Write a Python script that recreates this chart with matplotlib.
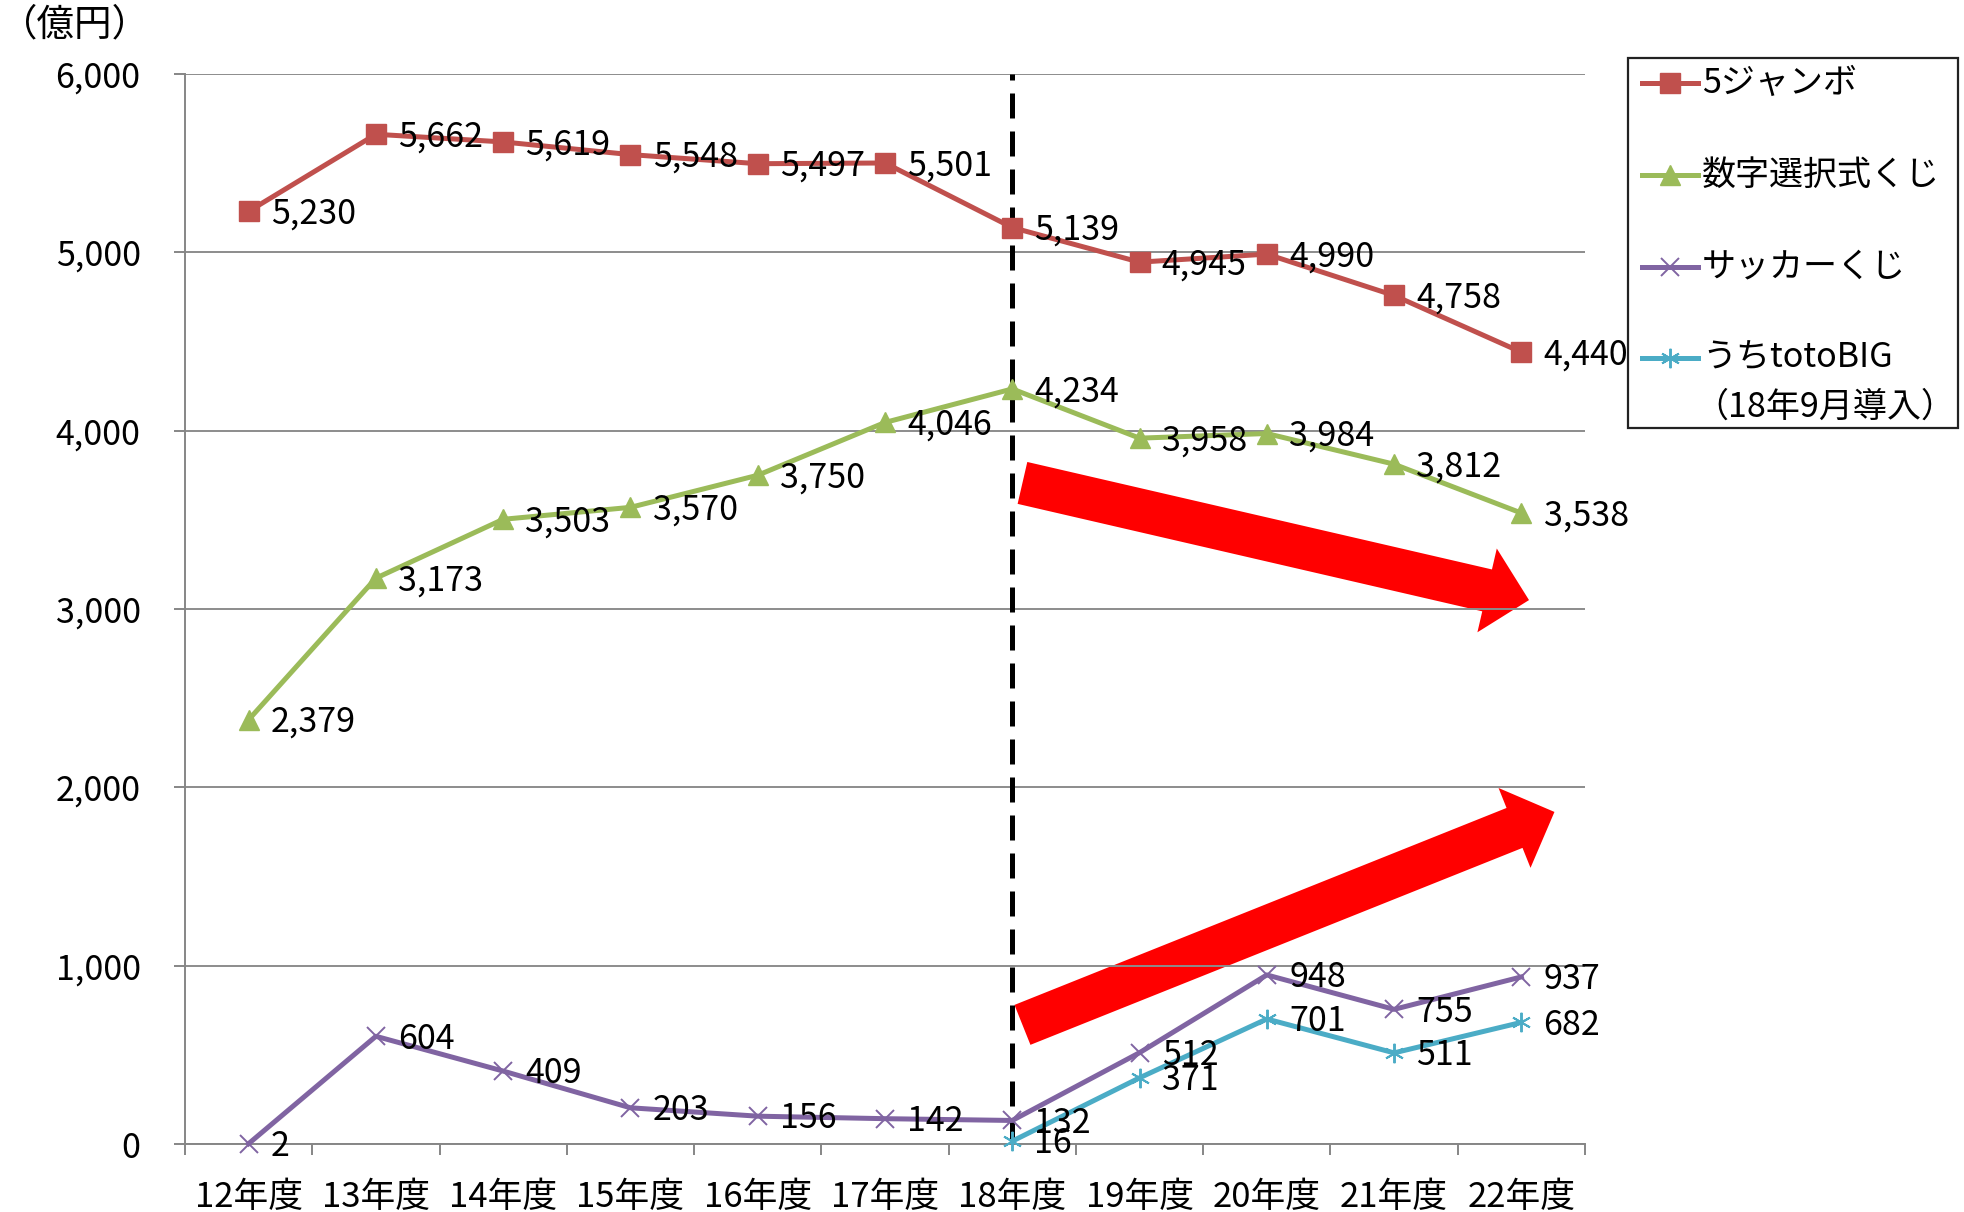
import numpy as np
import matplotlib
matplotlib.use('Agg')
import matplotlib.pyplot as plt
from matplotlib.lines import Line2D
from matplotlib.patches import FancyArrow, Rectangle
from matplotlib.ticker import FuncFormatter, FixedLocator
from matplotlib.transforms import IdentityTransform

plt.rcParams['font.family'] = ['Noto Sans CJK JP', 'DejaVu Sans']

# data (億円)
years = ['12年度', '13年度', '14年度', '15年度', '16年度', '17年度',
         '18年度', '19年度', '20年度', '21年度', '22年度']
jumbo = [5230, 5662, 5619, 5548, 5497, 5501, 5139, 4945, 4990, 4758, 4440]
numbers = [2379, 3173, 3503, 3570, 3750, 4046, 4234, 3958, 3984, 3812, 3538]
soccer = [2, 604, 409, 203, 156, 142, 132, 512, 948, 755, 937]
toto_big = [np.nan] * 6 + [16, 371, 701, 511, 682]
names = ['5ジャンボ', '数字選択式くじ', 'サッカーくじ', 'うちtotoBIG']
toto_note = '（18年9月導入）'
y_unit = '（億円）'
split_year = 6   # 18年度: totoBIG introduced

W, H = 1964, 1212
FS = 24.5

# name, values, color, marker, markersize, markeredgewidth
series = [
    (names[0], jumbo, '#C0504D', 's', 14, 1.0),
    (names[1], numbers, '#9BBB59', '^', 15, 1.0),
    (names[2], soccer, '#8064A2', 'x', 13, 1.4),
    (names[3], toto_big, '#4BACC6', (6, 2, 0), 14, 1.4),
]

fig = plt.figure(figsize=(W / 100, H / 100), dpi=100)
ax = fig.add_axes([185 / W, 1 - 1144 / H, 1400 / W, 1070 / H])

x = np.arange(len(years))
for name, vals, color, marker, ms, mew in series:
    vals = np.asarray(vals, dtype=float)
    ax.plot(x, vals, color=color, lw=3.6, marker=marker, ms=ms,
            mec=color, mfc=color, mew=mew, zorder=3, clip_on=False)
    for xi, v in zip(x, vals):
        if np.isnan(v):
            continue
        ax.annotate(f'{v:,.0f}', (xi, v), xytext=(16, -2),
                    textcoords='offset points', ha='left', va='center',
                    fontsize=FS, color='black', zorder=4)

ax.set_xlim(-0.5, len(years) - 0.5)
ax.set_ylim(0, 6000)
ax.set_yticks(np.arange(0, 6001, 1000))
ax.yaxis.set_major_formatter(FuncFormatter(lambda v, p: f'{v:,.0f}'))
ax.set_xticks(x)
ax.set_xticklabels(years)
ax.xaxis.set_minor_locator(FixedLocator(np.arange(-0.5, len(years), 1)))
ax.tick_params(axis='x', which='major', length=0, pad=26, labelsize=25)
ax.tick_params(axis='x', which='minor', length=8, width=1.4,
               color='#868686', direction='out')
ax.tick_params(axis='y', length=8, width=1.4, color='#868686',
               pad=24, labelsize=FS)

ax.grid(axis='y', color='#8C8C8C', lw=1.4)
ax.set_axisbelow(True)
for s in ['top', 'right']:
    ax.spines[s].set_visible(False)
for s in ['left', 'bottom']:
    ax.spines[s].set_color('#868686')
    ax.spines[s].set_linewidth(1.4)

# dashed split line at 18年度
ax.plot([split_year, split_year], [0, 6000], color='black', lw=3.6,
        dashes=(5, 2.6), zorder=2.5, clip_on=False)


# red trend arrows (tail / tip in data coords)
def red_arrow(tail, tip):
    (x0, y0), (x1, y1) = ax.transData.transform([tail, tip])
    ax.add_patch(FancyArrow(x0, y0, x1 - x0, y1 - y0, width=43,
                            head_width=86, head_length=43,
                            length_includes_head=True,
                            transform=IdentityTransform(),
                            color='#FF0000', lw=0, zorder=0.3))


red_arrow((6.08, 3707), (10.06, 3050))
red_arrow((6.08, 668), (10.26, 1862))

# unit label
fig.text(0 / W, 1 - 25 / H, y_unit, fontsize=27, ha='left', va='center')

# legend drawn by hand
fig.add_artist(Rectangle((1628 / W, 1 - 428 / H), 330 / W, 370 / H,
                         transform=fig.transFigure, fill=False,
                         edgecolor='#222222', lw=1.6))
rows = [83, 175, 267, 358]
for (name, vals, color, marker, ms, mew), ry in zip(series, rows):
    fy = 1 - ry / H
    fig.add_artist(Line2D([1642 / W, 1670 / W, 1698 / W], [fy] * 3,
                          transform=fig.transFigure, color=color, lw=3.6,
                          marker=marker, ms=ms, mec=color, mfc=color,
                          mew=mew, markevery=[1]))
    fig.text(1702 / W, fy, name, fontsize=FS, ha='left', va='center')
fig.text(1694 / W, 1 - 407 / H, toto_note, fontsize=FS, ha='left',
         va='center')

fig.savefig('out.png', dpi=100)
